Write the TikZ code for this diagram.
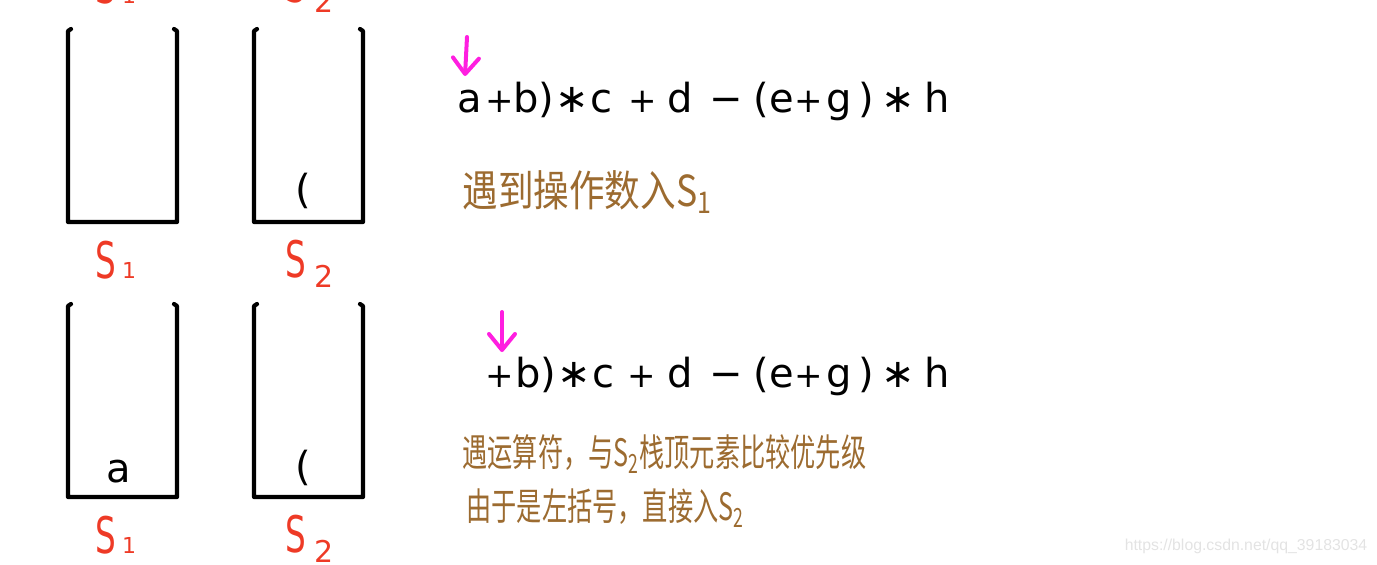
\documentclass[tikz,border=0pt]{standalone}
\usepackage{fontspec}
\setmainfont{DejaVu Sans}
\newfontfamily\cjk{Noto Sans CJK SC}
\newfontfamily\wmfont{Liberation Sans}
\usetikzlibrary{arrows.meta}
\definecolor{sred}{HTML}{EE3A26}
\definecolor{pinkarrow}{HTML}{FF1EE0}
\definecolor{brn}{HTML}{9C6B30}
\definecolor{wmgray}{HTML}{E3E3E3}
\newcommand\labS{\scalebox{0.68}[1.05]{S}}
\newcommand\subone{\kern3pt{\fontsize{11}{11}\selectfont 1}}
\newcommand\subtwo{\kern4pt\raisebox{-5pt}{\fontsize{15}{15}\selectfont 2}}
\newcommand\pl{{\fontsize{17}{17}\selectfont +}}
\begin{document}
\begin{tikzpicture}[x=0.5pt,y=-0.5pt,
  wall/.style={line width=2.1pt, line join=round, line cap=round},
  expr/.style={anchor=base, inner sep=0pt, font=\fontsize{20}{24}\selectfont},
  lab/.style={anchor=base west, inner sep=0pt, text=sred, font=\fontsize{24}{26}\selectfont},
  note/.style={anchor=west, inner sep=0pt, text=brn},
  ptr/.style={draw=pinkarrow, line width=2pt, line cap=round, -{Straight Barb[length=8pt,width=13pt,round]}}
]
\useasboundingbox (0,0) rectangle (1377,564);

% stacks
\foreach \x/\y in {68/30, 254/30, 68/305, 254/305}
  \draw[wall] (\x+3,\y-1) -- (\x,\y+1) -- (\x,\y+192) -- (\x+109,\y+192) -- (\x+109,\y+1) -- (\x+106,\y-1);

% stack labels
\foreach \r/\yy in {0/3, 1/278, 2/553} {
  \node[lab] (sa\r) at (95,\yy) {\labS\subone};
  \node[lab] (sb\r) at (285,\yy-1) {\labS\subtwo};
}

% stack contents
\node[expr] (inS2a) at (303,203) {(};
\node[expr] (inS1b) at (119,482) {a};
\node[expr] (inS2b) at (303,480) {(};

% expression line 1
\foreach \i/\x/\c in {1/470/a, 2/500/\pl, 3/526/b, 4/546/{)}, 5/572/∗, 6/601/c, 7/643/\pl, 8/680/d, 9/726/−, 10/761/{(}, 11/782/e, 12/809/\pl, 13/839/g, 14/866/{)}, 15/898/∗, 16/937/h}
  \node[expr] (ea\i) at (\x,112) {\c};

% expression line 2
\foreach \i/\x/\c in {2/500/\pl, 3/528/b, 4/548/{)}, 5/574/∗, 6/603/c, 7/642/\pl, 8/680/d, 9/726/−, 10/761/{(}, 11/782/e, 12/809/\pl, 13/839/g, 14/866/{)}, 15/898/∗, 16/937/h}
  \node[expr] (eb\i) at (\x,387) {\c};

% pointers
\coordinate (p1s) at (467,37);
\coordinate (p1e) at (465,76);
\draw[ptr] (p1s) -- (p1e);
\coordinate (p2s) at (502,312);
\coordinate (p2e) at (502,352);
\draw[ptr] (p2s) -- (p2e);

% notes
\node[note] (n1) at (462,192) {\scalebox{1}[1.2]{\cjk\fontsize{17.8}{20}\selectfont 遇到操作数入S\textsubscript{1}}};
\node[note] (n2) at (462,454) {\scalebox{1}[1.5]{\cjk\fontsize{12.6}{14}\selectfont 遇运算符，与S\textsubscript{2}栈顶元素比较优先级}};
\node[note] (n3) at (466,508) {\scalebox{1}[1.5]{\cjk\fontsize{12.6}{14}\selectfont 由于是左括号，直接入S\textsubscript{2}}};

% watermark
\node[inner sep=0pt, text=wmgray, font=\wmfont\fontsize{7.9}{9}\selectfont] (wm) at (1246,546) {https://blog.csdn.net/qq\_39183034};
\end{tikzpicture}
\end{document}
